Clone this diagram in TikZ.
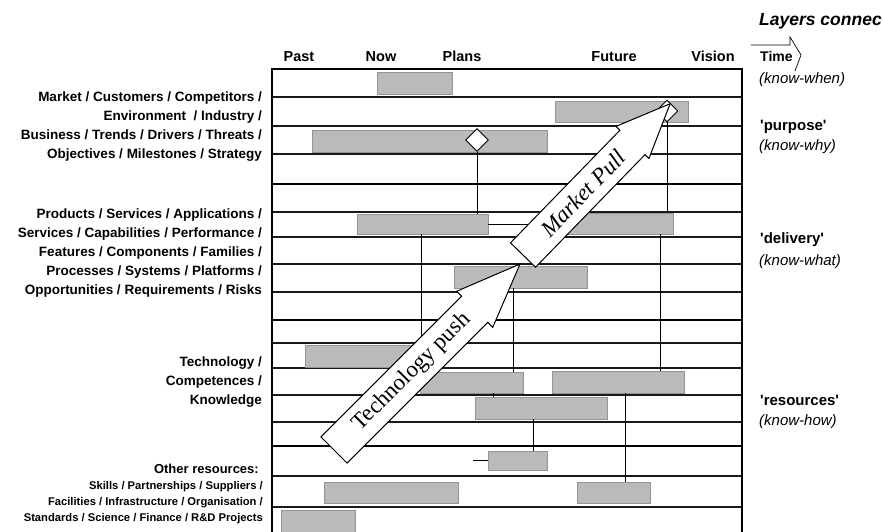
\documentclass[tikz,border=0pt]{standalone}
\usepackage{fontspec}
\newfontfamily\arial{Liberation Sans}
\newfontfamily\serifface{Liberation Serif}
\usetikzlibrary{shapes.geometric}

% a grey task bar given by its corners (x1,y1) and (x2,y2)
\newcommand\taskbar[5]{%
  \node[bar, minimum width={(#4-#2)*1pt}, minimum height={(#5-#3)*1pt}]
    (#1) at ({(#2+#4)/2},{(#3+#5)/2}) {};}

\begin{document}
\begin{tikzpicture}[x=1pt,y=-1pt,
  bar/.style={rectangle, draw=black!42, line width=0.6pt, fill=black!27, inner sep=0pt},
  gridthin/.style={line width=1.2pt, draw=black!90},
  gridthick/.style={line width=2.3pt},
  link/.style={line width=0.9pt},
  milestone/.style={diamond, draw, fill=white, line width=0.9pt, inner sep=0pt,
    minimum width=23pt, minimum height=23pt},
  rowlabel/.style={font=\arial\bfseries\fontsize{13.5}{19}\selectfont, align=right,
    anchor=east, inner sep=0pt},
  smalllabel/.style={font=\arial\bfseries\fontsize{11.2}{16}\selectfont, align=right,
    anchor=east, inner sep=0pt},
  colhead/.style={font=\arial\bfseries\fontsize{14.5}{16}\selectfont, inner sep=0pt, anchor=base},
  layerhead/.style={font=\arial\bfseries\fontsize{15}{17}\selectfont, anchor=west, inner sep=0pt},
  layernote/.style={font=\arial\itshape\fontsize{15}{17}\selectfont, anchor=west, inner sep=0pt},
  bigarrow/.style={draw, fill=white, line width=1pt, line join=miter},
  arrowtext/.style={font=\serifface\fontsize{23}{26}\selectfont, inner sep=0pt}
]
\useasboundingbox (0,0) rectangle (883,531);

% ---- grid of the roadmap ----
\foreach \y in {97,126,154,212,237,264,292,343,368,395,422,476,507}
  \draw[gridthin] (272,\y) -- (742,\y);
\foreach \y in {184,320,446}
  \draw[gridthick] (272,\y) -- (742,\y);
\draw[gridthick] (272,535) -- (272,69) -- (742,69) -- (742,535);

% ---- time axis headings ----
\node[colhead] (past)   at (299,61) {Past};
\node[colhead] (now)    at (381,61) {Now};
\node[colhead] (plans)  at (462,61) {Plans};
\node[colhead] (future) at (614,61) {Future};
\node[colhead] (vision) at (713,61) {Vision};

% ---- layer names on the left ----
\node[rowlabel] (lmarket) at (262,126.5) {Market / Customers / Competitors /\\
  Environment \ / Industry /\\ Business / Trends / Drivers / Threats /\\
  Objectives / Milestones / Strategy};
\node[rowlabel] (lproduct) at (262,253) {Products / Services / Applications /\\
  Services / Capabilities / Performance /\\ Features / Components / Families /\\
  Processes / Systems / Platforms /\\ Opportunities / Requirements / Risks};
\node[rowlabel] (ltech) at (262,382) {Technology /\\ Competences /\\ Knowledge};
\node[rowlabel, font=\arial\bfseries\fontsize{13}{16}\selectfont] (lother) at (259,469) {Other resources:};
\node[smalllabel] (lres) at (263,503) {Skills / Partnerships / Suppliers /\\
  Facilities / Infrastructure / Organisation /\\ Standards / Science / Finance / R\&D Projects};

% ---- layer names on the right ----
\node[anchor=west, inner sep=0pt, font=\arial\bfseries\itshape\fontsize{17.5}{20}\selectfont]
  (layers) at (759,21) {Layers connec};
\draw[line width=0.7pt, line join=miter] (751,45) -- (790,45) -- (790,37) -- (801,55) -- (795,71);
\node[anchor=base west, inner sep=0pt, font=\arial\bfseries\fontsize{14}{16}\selectfont] (time) at (760,61) {Time};
\node[layernote] (when) at (759,80) {(know-when)};
\node[layerhead] (purpose) at (760,127) {\textquotesingle purpose\textquotesingle};
\node[layernote] (why) at (759,147) {(know-why)};
\node[layerhead] (delivery) at (760,240) {\textquotesingle delivery\textquotesingle};
\node[layernote] (what) at (759,262) {(know-what)};
\node[layerhead] (resources) at (760,400) {\textquotesingle resources\textquotesingle};
\node[layernote] (how) at (759,422) {(know-how)};

% ---- task bars ----
\taskbar{b1}{377}{72}{452}{94}
\taskbar{b2}{555}{101}{688}{122}
\taskbar{b3}{312}{130}{547}{152}
\taskbar{b4}{357}{214}{488}{234}
\taskbar{b5}{560}{213}{673}{234}
\taskbar{b14}{454}{266}{587}{288}
\taskbar{b6}{305}{345}{430}{367}
\taskbar{b7}{420}{372}{523}{393}
\taskbar{b8}{552}{371}{684}{393}
\taskbar{b9}{475}{397}{607}{419}
\taskbar{b10}{488}{451}{547}{470}
\taskbar{b11}{324}{482}{458}{503}
\taskbar{b12}{577}{482}{650}{503}
\taskbar{b13}{281}{510}{355}{536}

% ---- milestones ----
\node[milestone] (d1) at (477,140) {};
\node[milestone, minimum width=22pt, minimum height=22pt] (d2) at (667,111) {};

% ---- links between layers ----
\draw[link] (d1.south) -- (d1.south |- b4.north);
\draw[link] (d2.south) -- (d2.south |- b5.north);
\draw[link] (b4.east) -- (b4.east -| b5.west);
\draw[link] (421,0 |- b4.south) -- (421,0 |- b6.north);
\draw[link] (660,0 |- b5.south) -- (660,0 |- b8.north);
\draw[link] (513,0 |- b14.south) -- (513,0 |- b7.north);
\draw[link] (493,0 |- b7.south) -- (493,0 |- b9.north);
\draw[link] (625,0 |- b8.south) -- (625,0 |- b12.north);
\draw[link] (533,0 |- b9.south) -- (533,0 |- b10.north);
\coordinate (lead) at (473,460);
\draw[link] (lead) -- (lead -| b10.west);

% ---- technology push ----
\begin{scope}[shift={(334,450)}, rotate=45]
  \draw[bigarrow] (0,-18.5) -- (199,-18.5) -- (199,-25.5) -- (263,0)
    -- (199,25.5) -- (199,18.5) -- (0,18.5) -- cycle;
  \node[arrowtext, rotate=45] (push) at (110,0) {Technology push};
\end{scope}

% ---- market pull ----
\begin{scope}[shift={(523,255)}, rotate=45.8]
  \draw[bigarrow] (0,-17.5) -- (157,-17.5) -- (157,-23) -- (211,0)
    -- (157,23) -- (157,17.5) -- (0,17.5) -- cycle;
  \node[arrowtext, rotate=45.8, font=\serifface\itshape\fontsize{23}{26}\selectfont] (pull) at (86,0) {Market Pull};
\end{scope}
\end{tikzpicture}
\end{document}
